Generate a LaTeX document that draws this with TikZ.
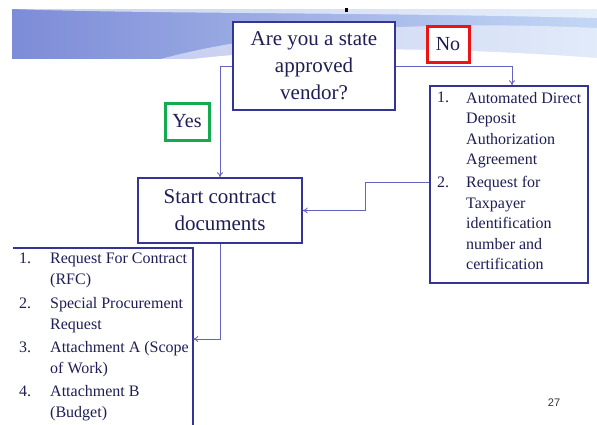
\documentclass[tikz,border=0pt]{standalone}
\usepackage{fontspec}
\setmainfont{Liberation Serif}
\newfontfamily\pagefont{Liberation Sans}
\usetikzlibrary{arrows.meta,calc}
\definecolor{boxblue}{RGB}{52,52,150}
\definecolor{linecol}{RGB}{100,100,190}
\definecolor{txtcol}{RGB}{30,30,85}
\definecolor{nored}{RGB}{235,20,20}
\definecolor{yesgreen}{RGB}{20,170,80}
\definecolor{waveA}{RGB}{125,140,215}
\definecolor{waveB}{RGB}{195,215,245}
\tikzset{
  flowbox/.style={draw=boxblue,line width=1.5pt,fill=white,text=txtcol,align=center,inner sep=0pt},
  tagbox/.style={line width=3pt,fill=white,text=txtcol,inner sep=0pt,font=\fontsize{20}{23}\selectfont},
  conn/.style={draw=linecol,line width=0.9pt,-{To[length=5pt,width=6pt]}},
  listtxt/.style={text=txtcol,align=left,anchor=north west,inner sep=0pt,font=\fontsize{16}{20.5}\selectfont},
}
\begin{document}
\begin{tikzpicture}[x=1pt,y=-1pt]
\useasboundingbox (0,0) rectangle (597,424);
% background waves
\shade[left color=waveA,right color=waveB] (12,9) rectangle (597,58);
\fill[white,opacity=0.5] (150,62) .. controls (260,30) and (420,20) .. (597,28) -- (597,60) -- (150,62) -- cycle;
\fill[white] (120,70) .. controls (250,45) and (420,45) .. (597,58) -- (597,75) -- (120,75) -- cycle;
\fill[white,opacity=0.6] (12,9) .. controls (150,14) and (350,12) .. (597,18) -- (597,9) -- cycle;
\fill[black] (345,8) rectangle (348,12);
% nodes
\node[flowbox,minimum width=162pt,minimum height=88pt,font=\fontsize{21}{27}\selectfont] (q) at (314,66) {Are you a state\\approved\\vendor?};
\node[tagbox,draw=nored,minimum width=42pt,minimum height=36pt] (no) at (448,44) {No};
\node[tagbox,draw=yesgreen,minimum width=44pt,minimum height=37pt] (yes) at (187,121.5) {Yes};
\node[flowbox,minimum width=164pt,minimum height=65pt,font=\fontsize{21}{27}\selectfont] (start) at (220,210.5) {Start contract\\documents};
\node[flowbox,minimum width=158pt,minimum height=197pt] (rlist) at (509,184.5) {};
\node[inner sep=0pt,minimum width=180pt,minimum height=182pt] (llist) at (103,339) {};
\draw[boxblue,line width=1.5pt] (llist.south east) -- (llist.north east) -- (llist.north west);
% right list text
\node[listtxt] (r1n) at (437,92) {1.};
\node[listtxt] (r1t) at (466,92) {Automated Direct\\Deposit\\Authorization\\Agreement};
\node[listtxt] (r2n) at (437,176.5) {2.};
\node[listtxt] (r2t) at (466,176.5) {Request for\\Taxpayer\\identification\\number and\\certification};
% left list text
\node[listtxt] (l1n) at (19,253) {1.};
\node[listtxt] (l1t) at (50,253) {Request For Contract\\(RFC)};
\node[listtxt] (l2n) at (19,297.5) {2.};
\node[listtxt] (l2t) at (50,297.5) {Special Procurement\\Request};
\node[listtxt] (l3n) at (19,341.5) {3.};
\node[listtxt] (l3t) at (50,341.5) {Attachment A (Scope\\of Work)};
\node[listtxt] (l4n) at (19,385.5) {4.};
\node[listtxt] (l4t) at (50,385.5) {Attachment B\\(Budget)};
\node[text=black!80,font=\pagefont\fontsize{11}{13}\selectfont] (pg) at (554,403) {27};
% connectors
\draw[conn] (q.west) -| (start.north);
\draw[conn] (q.east) -| ([xshift=3pt]rlist.north);
\draw[conn] ([yshift=2.5pt]rlist.west) -- ++(-64,0) |- (start.east);
\draw[conn] (start.south) |- (llist.east);
\end{tikzpicture}
\end{document}
